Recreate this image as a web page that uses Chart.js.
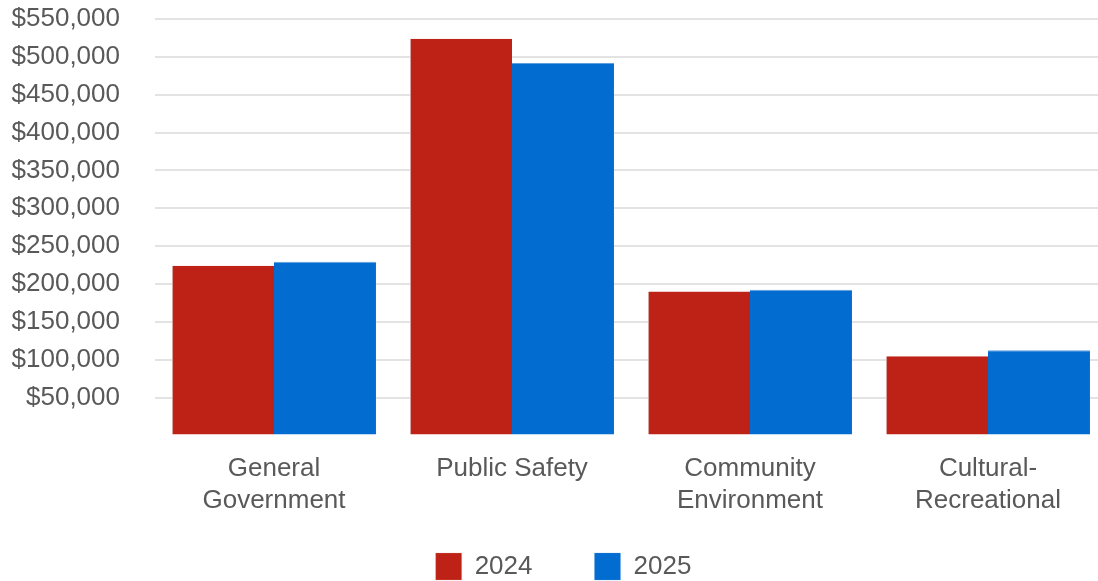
<!DOCTYPE html>
<html>
<head>
<meta charset="utf-8">
<script src="https://cdn.jsdelivr.net/npm/chart.js@4.4.1/dist/chart.umd.min.js"></script>
<style>
  html, body { margin: 0; padding: 0; background: #fff; overflow: hidden; }
  #wrap { width: 1108px; height: 581px; position: relative; }
</style>
</head>
<body>
<div id="wrap"><canvas id="chart"></canvas></div>
<script>
// data
const categories = [
    ['General', 'Government'],
    ['Public Safety'],
    ['Community', 'Environment'],
    ['Cultural-', 'Recreational']
];
const values2024 = [224000, 524000, 190000, 104500];
const values2025 = [229500, 492000, 192500, 112500];
const seriesLabels = ['2024', '2025'];

const textColor = '#595959';
const fontFamily = '"Liberation Sans", Arial, sans-serif';

Chart.defaults.font.family = fontFamily;
Chart.defaults.color = textColor;

const money = v => '$' + v.toLocaleString('en-US');

// legend box is squeezed under the x labels, then drawn a bit higher and to the right
const legendPlace = {
    id: 'legendPlace',
    afterInit(chart) {
        const lg = chart.legend;
        const fit = lg.fit;
        const draw = lg.draw;
        lg.fit = function () {
            fit.call(this);
            this.height = 65.5;
        };
        lg.draw = function () {
            const saved = {top: this.top, bottom: this.bottom, height: this.height,
                           left: this.left, right: this.right};
            this.top = 491;
            this.bottom = 581;
            this.height = 90;
            this.left += 10;
            this.right += 10;
            draw.apply(this, arguments);
            Object.assign(this, saved);
        };
    }
};

new Chart(document.getElementById('chart'), {
    type: 'bar',
    plugins: [legendPlace],
    data: {
        labels: categories,
        datasets: [
            {
                label: seriesLabels[0],
                data: values2024,
                backgroundColor: '#BE2116',
                borderColor: '#D9A09A',
                borderWidth: {left: 1, right: 0, top: 0, bottom: 0}
            },
            {
                label: seriesLabels[1],
                data: values2025,
                backgroundColor: '#036CD0',
                borderColor: '#5C9FE0',
                borderWidth: {top: 1, left: 0, right: 0, bottom: 0}
            }
        ]
    },
    options: {
        responsive: true,
        maintainAspectRatio: false,
        animation: false,
        categoryPercentage: 0.857,
        barPercentage: 1,
        layout: {
            padding: {top: 19, left: 0, right: 1, bottom: 0}
        },
        plugins: {
            legend: {
                position: 'bottom',
                labels: {
                    boxWidth: 26,
                    boxHeight: 27,
                    padding: 62,
                    color: textColor,
                    font: {size: 26}
                }
            },
            tooltip: {enabled: false}
        },
        scales: {
            x: {
                afterFit: scale => { scale.height = 80; },
                grid: {display: false, drawTicks: false},
                border: {display: false},
                ticks: {
                    padding: 17,
                    maxRotation: 0,
                    autoSkip: false,
                    color: textColor,
                    font: {size: 26, lineHeight: 1.23}
                }
            },
            y: {
                min: 0,
                max: 550000,
                afterFit: scale => {
                    scale.width = 155;
                    scale.paddingTop = 0;
                    scale.paddingBottom = 0;
                },
                grid: {
                    drawTicks: false,
                    color: ctx => ctx.tick && ctx.tick.value === 0 ? 'rgba(0,0,0,0)' : '#E3E3E3',
                    lineWidth: 2
                },
                border: {display: false},
                ticks: {
                    stepSize: 50000,
                    autoSkip: false,
                    padding: 35,
                    color: textColor,
                    font: {size: 26},
                    callback: v => v === 0 ? '' : money(v)
                }
            }
        }
    }
});
</script>
</body>
</html>
